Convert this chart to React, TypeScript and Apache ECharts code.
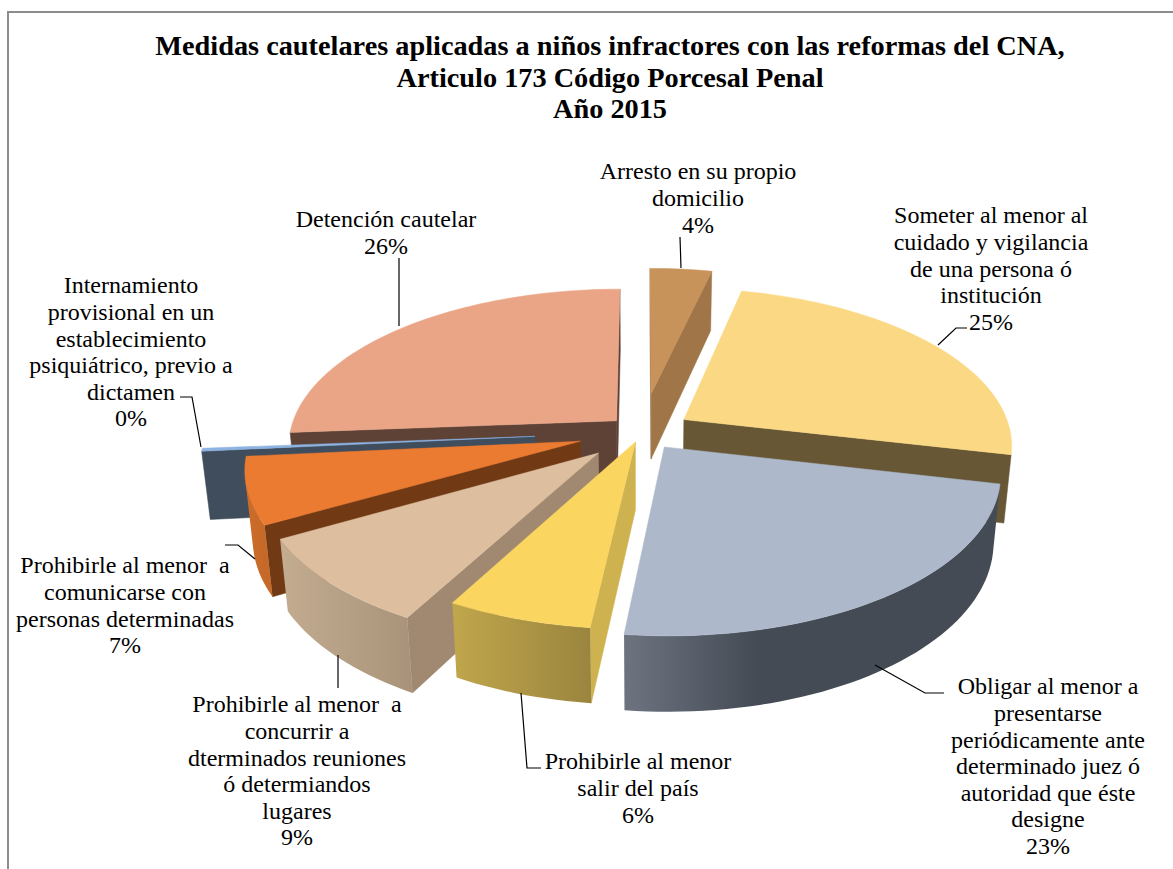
import React, { useEffect, useRef } from "react";
import * as echarts from "echarts";

const titleLines = [
  "Medidas cautelares aplicadas a niños infractores con las reformas del CNA,",
  "Articulo 173 Código Porcesal Penal",
  "Año 2015",
];

const categories = [
  "Arresto en su propio\ndomicilio",
  "Someter al menor al\ncuidado y vigilancia\nde una persona ó\ninstitución",
  "Obligar al menor a\npresentarse\nperiódicamente ante\ndeterminado juez ó\nautoridad que éste\ndesigne",
  "Prohibirle al menor\nsalir del país",
  "Prohibirle al menor  a\nconcurrir a\ndterminados reuniones\nó determiandos\nlugares",
  "Prohibirle al menor  a\ncomunicarse con\npersonas determinadas",
  "Internamiento\nprovisional en un\nestablecimiento\npsiquiátrico, previo a\ndictamen",
  "Detención cautelar",
];
// Percent shares, clockwise from twelve o'clock.
const values = [3.6, 25, 23.2, 6.1, 8.9, 6.7, 0.3, 26.2];
const explode = [85, 50, 38, 22, 61, 64, 107, 35];
const drawOrder = [0, 7, 6, 1, 5, 4, 3, 2];

const topColors = ["#C8935A", "#FBD984", "#ADB9CA", "#FAD660", "#DDBFA0", "#EB7B30", "#8DB3E2", "#EAA587"];
const cutColors = ["#A07548", "#675735", "#454B55", "#CFB250", "#A08970", "#713A14", "#3F4D5C", "#5E4236"];
const wallLeft = ["#A07548", "#675735", "#6D7480", "#C0A64B", "#C3AC90", "#CC6C29", "#3F4D5C", "#5E4236"];
const wallRight = ["#A07548", "#675735", "#454B55", "#9A853F", "#A8937A", "#C46828", "#3F4D5C", "#5E4236"];

const FONT = "'Liberation Serif'";
const PIE = { cx: 642, cy: 432, R: 327, H: 78, D: 1883, tilt: (28.3 * Math.PI) / 180 };

function project(x: number, y: number, h: number): number[] {
  const sinE = Math.sin(PIE.tilt);
  const cosE = Math.cos(PIE.tilt);
  const Y = y * sinE + h * cosE;
  const Z = y * cosE - h * sinE;
  const s = PIE.D / (PIE.D - Z);
  return [PIE.cx + s * x, PIE.cy + s * Y];
}

function signedArea(p: number[][]): number {
  let a = 0;
  for (let i = 0; i < p.length; i++) {
    const q = p[(i + 1) % p.length];
    a += p[i][0] * q[1] - q[0] * p[i][1];
  }
  return a;
}

const total = values.reduce((a, b) => a + b, 0);

function sliceShapes(idx: number) {
  let before = 0;
  for (let i = 0; i < idx; i++) before += values[i];
  const a0 = (before / total) * Math.PI * 2;
  const a1 = ((before + values[idx]) / total) * Math.PI * 2;
  const mid = (a0 + a1) / 2;
  const ox = explode[idx] * Math.sin(mid);
  const oy = -explode[idx] * Math.cos(mid);
  const steps = Math.max(2, Math.ceil((a1 - a0) / 0.03));
  const rim: number[][] = [];
  for (let i = 0; i <= steps; i++) {
    const a = a0 + ((a1 - a0) * i) / steps;
    rim.push([ox + PIE.R * Math.sin(a), oy - PIE.R * Math.cos(a)]);
  }
  const top = (p: number[]) => project(p[0], p[1], 0);
  const bot = (p: number[]) => project(p[0], p[1], PIE.H);
  const apex = [ox, oy];
  const children: any[] = [];
  const poly = (points: number[][], fill: any) => ({
    type: "polygon",
    shape: { points },
    style: { fill, stroke: typeof fill === "string" ? fill : "none", lineWidth: 0.5 },
  });
  const cuts = [
    [apex, rim[0]],
    [rim[rim.length - 1], apex],
  ];
  for (const [p, q] of cuts) {
    const pts = [top(p), top(q), bot(q), bot(p)];
    if (signedArea(pts) < 0) children.push(poly(pts, cutColors[idx]));
  }
  let runT: number[][] = [];
  let runB: number[][] = [];
  const flush = () => {
    if (runT.length > 1) {
      const grad = new echarts.graphic.LinearGradient(0, 0, 1, 0, [
        { offset: 0, color: wallLeft[idx] },
        { offset: idx === 2 ? 0.35 : 1, color: wallRight[idx] },
        { offset: 1, color: wallRight[idx] },
      ]);
      children.push(poly([...runT, ...runB.reverse()], grad));
    }
    runT = [];
    runB = [];
  };
  for (let i = 0; i < steps; i++) {
    const pts = [top(rim[i]), top(rim[i + 1]), bot(rim[i + 1]), bot(rim[i])];
    if (signedArea(pts) < 0) {
      if (!runT.length) {
        runT.push(pts[0]);
        runB.push(pts[3]);
      }
      runT.push(pts[1]);
      runB.push(pts[2]);
    } else flush();
  }
  flush();
  children.push(poly([top(apex), ...rim.map(top)], topColors[idx]));
  return children;
}

// Centre x and first-line top of each label, in the order of categories.
const labelPlaces: Record<string, number[]> = {
  "0": [698, 158],
  "1": [991, 202],
  "2": [1048, 673],
  "3": [638, 748],
  "4": [297, 691],
  "5": [125, 552],
  "6": [131, 272],
  "7": [386, 206],
};
const leaderLines: number[][][] = [
  [[680, 237], [681, 268]],
  [[967, 328], [956, 328], [938, 345]],
  [[944, 693], [925, 693], [875, 665]],
  [[541, 768], [527, 768], [521, 693]],
  [[338, 655], [338, 688]],
  [[225, 545], [238, 545], [255, 559]],
  [[180, 397], [192, 397], [201, 447]],
  [[399, 258], [399, 326]],
];

export default function App() {
  const ref = useRef<HTMLDivElement>(null);
  useEffect(() => {
    const chart = echarts.init(ref.current!, undefined, { renderer: "svg" });
    const graphic: any[] = [
      {
        type: "polyline",
        shape: { points: [[8, 869], [8, 12], [1173, 12]] },
        style: { stroke: "#8C8C8C", lineWidth: 2, fill: "none" },
      },
    ];
    leaderLines.forEach((pts) =>
      graphic.push({
        type: "polyline",
        z: 5,
        shape: { points: pts },
        style: { stroke: "#000", lineWidth: 1.2, fill: "none" },
      })
    );
    categories.forEach((name, i) => {
      const [x, y] = labelPlaces[String(i)];
      graphic.push({
        type: "text",
        z: 6,
        x,
        y,
        style: {
          text: `${name}\n${Math.round(values[i])}%`,
          font: `24px ${FONT}`,
          lineHeight: 26.6,
          fill: "#000",
          textAlign: "center",
          textVerticalAlign: "top",
        },
      });
    });
    chart.setOption({
      animation: false,
      backgroundColor: "#fff",
      title: {
        text: titleLines.join("\n"),
        left: 605,
        top: 25,
        textAlign: "center",
        textStyle: { fontFamily: FONT, fontSize: 28.3, fontWeight: "bold", color: "#000", lineHeight: 31.5 },
      },
      graphic,
      series: [
        {
          type: "custom",
          coordinateSystem: "none",
          silent: true,
          data: drawOrder.map((i) => [i, values[i]]),
          renderItem: (_p: any, api: any) => ({
            type: "group",
            children: sliceShapes(api.value(0)),
          }),
        },
      ],
    });
    return () => chart.dispose();
  }, []);
  return (
    <div
      ref={ref}
      style={{ position: "absolute", left: 0, top: 0, width: 1173, height: 869, background: "#fff" }}
    />
  );
}
